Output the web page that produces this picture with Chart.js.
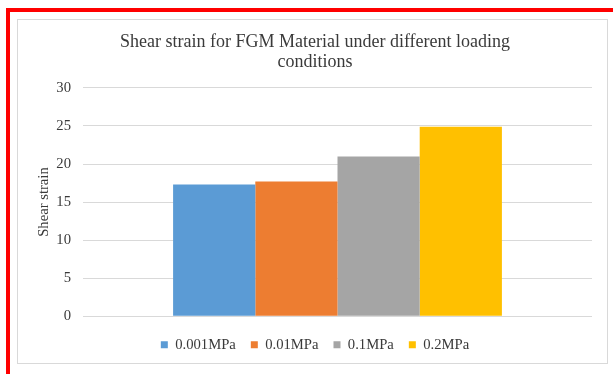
<!DOCTYPE html>
<html>
<head>
<meta charset="utf-8">
<script src="https://cdn.jsdelivr.net/npm/chart.js@4/dist/chart.umd.min.js"></script>
<style>
  html, body { margin: 0; padding: 0; background: #ffffff; }
  #page { position: relative; width: 613px; height: 374px; overflow: hidden; background: #ffffff; }
  .red-top { position: absolute; left: 6px; top: 8px; width: 607px; height: 4px; background: #ff0000; }
  .red-left { position: absolute; left: 6px; top: 8px; width: 4px; height: 366px; background: #ff0000; }
  .frame { position: absolute; left: 17px; top: 19px; width: 589px; height: 343px; border: 1px solid #d9d9d9; }
  #chart { position: absolute; left: 0; top: 0; }
</style>
</head>
<body>
<div id="page">
  <div class="red-top"></div>
  <div class="red-left"></div>
  <div class="frame"></div>
  <canvas id="chart" width="613" height="374"></canvas>
</div>
<script>
// Loading cases and the shear strain measured for each
const loadCases = ['0.001MPa', '0.01MPa', '0.1MPa', '0.2MPa'];
const shearStrain = [17.3, 17.7, 21.0, 24.9];
const barColors = ['#5B9BD5', '#ED7D31', '#A5A5A5', '#FFC000'];
const yTicks = [0, 5, 10, 15, 20, 25, 30];
const titleLines = ['Shear strain for FGM Material under different loading', 'conditions'];
const yAxisTitle = 'Shear strain';

const serif = "'Liberation Serif', 'Times New Roman', serif";
const textColor = '#3a3a3a';

const datasets = loadCases.map((name, i) => ({
  label: name,
  data: [shearStrain[i]],
  backgroundColor: barColors[i],
  borderWidth: 0,
  categoryPercentage: 0.646,
  barPercentage: 1.0
}));

new Chart(document.getElementById('chart'), {
  type: 'bar',
  data: { labels: [''], datasets },
  options: {
    responsive: false,
    animation: false,
    devicePixelRatio: 1,
    layout: { padding: { left: 38, right: 21, top: 0, bottom: 12 } },
    plugins: {
      title: {
        display: true,
        text: titleLines,
        color: textColor,
        font: { family: serif, size: 18, weight: 'normal', lineHeight: 1.11 },
        padding: { top: 32, bottom: 16 }
      },
      legend: {
        display: true,
        position: 'bottom',
        labels: {
          color: textColor,
          font: { family: serif, size: 14.67 },
          boxWidth: 7,
          boxHeight: 7,
          padding: 15
        }
      },
      tooltip: { enabled: false }
    },
    scales: {
      x: {
        grid: { display: false },
        border: { display: false },
        ticks: { display: false },
        afterFit: (scale) => { scale.height = 6.2; }
      },
      y: {
        min: 0,
        max: 30,
        afterBuildTicks: (scale) => { scale.ticks = yTicks.map(v => ({ value: v })); },
        grid: { color: '#d9d9d9', lineWidth: 1, drawTicks: false },
        border: { display: false },
        ticks: {
          color: textColor,
          font: { family: serif, size: 14.67 },
          padding: 12
        },
        title: {
          display: true,
          text: yAxisTitle,
          color: textColor,
          font: { family: serif, size: 14.67 },
          padding: { top: -3, bottom: 0 }
        },
        afterFit: (scale) => { scale.width = 45; }
      }
    }
  }
});
</script>
</body>
</html>
